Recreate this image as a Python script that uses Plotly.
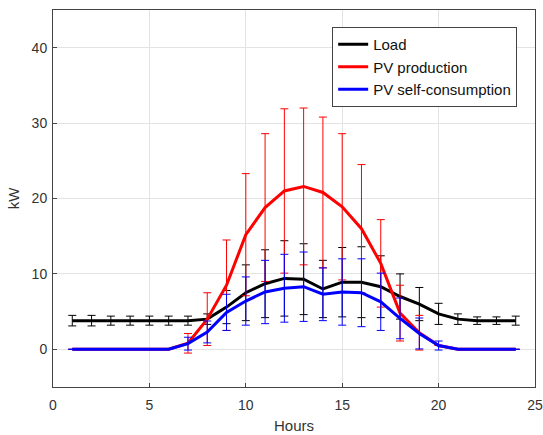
import plotly.graph_objects as go

hours = list(range(1, 25))

load = [3.8, 3.8, 3.8, 3.8, 3.8, 3.8, 3.8, 4.0, 5.6, 7.5, 8.7, 9.4,
        9.3, 8.0, 8.9, 8.9, 8.3, 7.0, 6.0, 4.7, 4.0, 3.8, 3.8, 3.8]
load_err = [0.7, 0.7, 0.6, 0.6, 0.6, 0.6, 0.6, 0.7, 2.2, 3.7, 4.5, 5.0,
            4.7, 3.8, 4.6, 4.7, 4.1, 3.0, 2.2, 1.4, 0.7, 0.5, 0.5, 0.6]

pv = [0, 0, 0, 0, 0, 0, 0.8, 4.0, 8.5, 15.2, 18.8, 21.0,
      21.6, 20.8, 18.9, 16.0, 11.4, 4.8, 2.2, 0.5, 0, 0, 0, 0]
pv_err = [0, 0, 0, 0, 0, 0, 1.3, 3.5, 6.0, 8.1, 9.8, 10.9,
          10.4, 10.0, 9.7, 8.5, 5.8, 3.7, 2.3, 0, 0, 0, 0, 0]

self_cons = [0, 0, 0, 0, 0, 0, 0.75, 2.3, 4.9, 6.4, 7.6, 8.1,
             8.3, 7.3, 7.6, 7.5, 6.3, 4.1, 2.1, 0.5, 0, 0, 0, 0]
self_err = [0, 0, 0, 0, 0, 0, 0.85, 1.45, 2.4, 3.2, 4.2, 4.5,
            4.6, 3.5, 4.4, 4.5, 3.8, 2.7, 2.05, 0.6, 0, 0, 0, 0]

series = [
    ("Load", load, load_err, "#000000"),
    ("PV production", pv, pv_err, "#ff0000"),
    ("PV self-consumption", self_cons, self_err, "#0000ff"),
]

fig = go.Figure()
for name, y, err, color in series:
    fig.add_trace(go.Scatter(
        x=hours, y=y, name=name, mode="lines",
        line=dict(color=color, width=3),
        error_y=dict(type="data", array=err, visible=True,
                     color=color, thickness=1, width=4),
    ))

axis_common = dict(
    showline=True, linecolor="#444444", linewidth=1, mirror=True,
    showgrid=True, gridcolor="#e3e3e3", gridwidth=1,
    zeroline=False, ticks="inside", ticklen=4, tickcolor="#444444",
    automargin=False,
    tickfont=dict(family="Liberation Sans, Arial, sans-serif", size=14, color="#333333"),
)

fig.update_layout(
    width=543, height=435,
    margin=dict(l=53, r=8, t=10, b=48),
    paper_bgcolor="white", plot_bgcolor="white",
    font=dict(family="Liberation Sans, Arial, sans-serif", size=14, color="#333333"),
    xaxis=dict(range=[0, 25], tickvals=[0, 5, 10, 15, 20, 25], ticklabelstandoff=5,
               title=dict(text="Hours", standoff=8, font=dict(size=15)), **axis_common),
    yaxis=dict(range=[-5, 45], tickvals=[0, 10, 20, 30, 40], ticklabelstandoff=2,
               title=dict(text="kW", standoff=8, font=dict(size=15)), **axis_common),
    legend=dict(x=0.963, y=0.955, xanchor="right", yanchor="top",
                bgcolor="white", bordercolor="#444444", borderwidth=1,
                font=dict(size=15, color="#111111"),
                tracegroupgap=2, itemwidth=30),
    showlegend=True,
)

fig.write_html("out.html", config={"displayModeBar": False},
               post_script="document.body.style.margin='0px';")
